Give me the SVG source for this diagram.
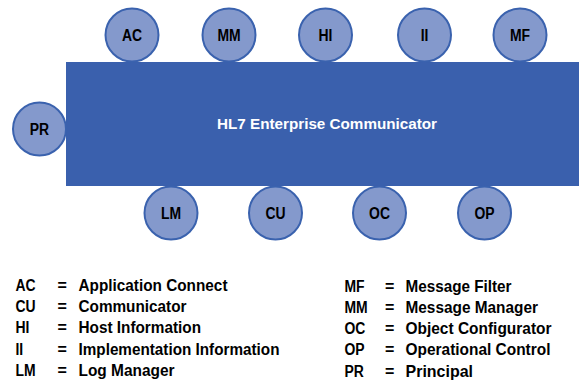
<svg xmlns="http://www.w3.org/2000/svg" width="579" height="381" viewBox="0 0 579 381">
  <style>
    text { font-family: "Liberation Sans", Arial, sans-serif; font-weight: bold; }
    .core { fill: #3A60AD; }
    .mod circle { fill: #8499CC; stroke: #3A62AE; stroke-width: 2; }
    .mod text { font-size: 17px; fill: #000; text-anchor: middle; }
    .title { font-size: 15px; fill: #fff; }
    .key text { font-size: 17px; fill: #000; }
    .key .eq { font-size: 16px; }
  </style>
  <rect width="579" height="381" fill="#fff"/>

  <g id="core">
    <rect class="core" x="66" y="62" width="513" height="124"/>
    <text class="title" x="217" y="129" textLength="220" lengthAdjust="spacingAndGlyphs">HL7 Enterprise Communicator</text>
  </g>

  <!-- modules above the core -->
  <g id="AC" class="mod"><circle cx="132" cy="35" r="26.5"/><text transform="translate(132 41) scale(0.82 1)">AC</text></g>
  <g id="MM" class="mod"><circle cx="229" cy="35" r="26.5"/><text transform="translate(229 41) scale(0.82 1)">MM</text></g>
  <g id="HI" class="mod"><circle cx="325.5" cy="35" r="26.5"/><text transform="translate(325.5 41) scale(0.82 1)">HI</text></g>
  <g id="II" class="mod"><circle cx="424.5" cy="35" r="26.5"/><text transform="translate(424.5 41) scale(0.82 1)">II</text></g>
  <g id="MF" class="mod"><circle cx="520" cy="35" r="26.5"/><text transform="translate(520 41) scale(0.82 1)">MF</text></g>

  <!-- module on the left -->
  <g id="PR" class="mod"><circle cx="39.5" cy="129" r="26.5"/><text transform="translate(39.5 135) scale(0.82 1)">PR</text></g>

  <!-- modules below the core -->
  <g id="LM" class="mod"><circle cx="171" cy="213" r="26.5"/><text transform="translate(171 219) scale(0.82 1)">LM</text></g>
  <g id="CU" class="mod"><circle cx="275.5" cy="213" r="26.5"/><text transform="translate(275.5 219) scale(0.82 1)">CU</text></g>
  <g id="OC" class="mod"><circle cx="379.5" cy="213" r="26.5"/><text transform="translate(379.5 219) scale(0.82 1)">OC</text></g>
  <g id="OP" class="mod"><circle cx="484.5" cy="213" r="26.5"/><text transform="translate(484.5 219) scale(0.82 1)">OP</text></g>

  <g id="connectors"></g>

  <!-- abbreviation key, left column -->
  <g id="key-left" class="key">
    <text transform="translate(15.5 290.5) scale(0.82 1)">AC</text>
    <text transform="translate(15.5 311.8) scale(0.82 1)">CU</text>
    <text transform="translate(15.5 333) scale(0.82 1)">HI</text>
    <text transform="translate(15.5 354.5) scale(0.82 1)">II</text>
    <text transform="translate(15.5 376) scale(0.82 1)">LM</text>
    <text class="eq" x="57.5" y="290.5">=</text>
    <text class="eq" x="57.5" y="311.8">=</text>
    <text class="eq" x="57.5" y="333">=</text>
    <text class="eq" x="57.5" y="354.5">=</text>
    <text class="eq" x="57.5" y="376">=</text>
    <text x="78.5" y="290.5" textLength="149" lengthAdjust="spacingAndGlyphs">Application Connect</text>
    <text x="78.5" y="311.8" textLength="108" lengthAdjust="spacingAndGlyphs">Communicator</text>
    <text x="78.5" y="333" textLength="122.5" lengthAdjust="spacingAndGlyphs">Host Information</text>
    <text x="78.5" y="354.5" textLength="201" lengthAdjust="spacingAndGlyphs">Implementation Information</text>
    <text x="78.5" y="376" textLength="96" lengthAdjust="spacingAndGlyphs">Log Manager</text>
  </g>

  <!-- abbreviation key, right column -->
  <g id="key-right" class="key">
    <text transform="translate(344.5 292) scale(0.82 1)">MF</text>
    <text transform="translate(344.5 313) scale(0.82 1)">MM</text>
    <text transform="translate(344.5 334) scale(0.82 1)">OC</text>
    <text transform="translate(344.5 355.3) scale(0.82 1)">OP</text>
    <text transform="translate(344.5 376.5) scale(0.82 1)">PR</text>
    <text class="eq" x="385" y="292">=</text>
    <text class="eq" x="385" y="313">=</text>
    <text class="eq" x="385" y="334">=</text>
    <text class="eq" x="385" y="355.3">=</text>
    <text class="eq" x="385" y="376.5">=</text>
    <text x="405.5" y="292" textLength="106" lengthAdjust="spacingAndGlyphs">Message Filter</text>
    <text x="405.5" y="313" textLength="132.5" lengthAdjust="spacingAndGlyphs">Message Manager</text>
    <text x="405.5" y="334" textLength="146" lengthAdjust="spacingAndGlyphs">Object Configurator</text>
    <text x="405.5" y="355.3" textLength="145" lengthAdjust="spacingAndGlyphs">Operational Control</text>
    <text x="405.5" y="376.5" textLength="67.5" lengthAdjust="spacingAndGlyphs">Principal</text>
  </g>
</svg>
